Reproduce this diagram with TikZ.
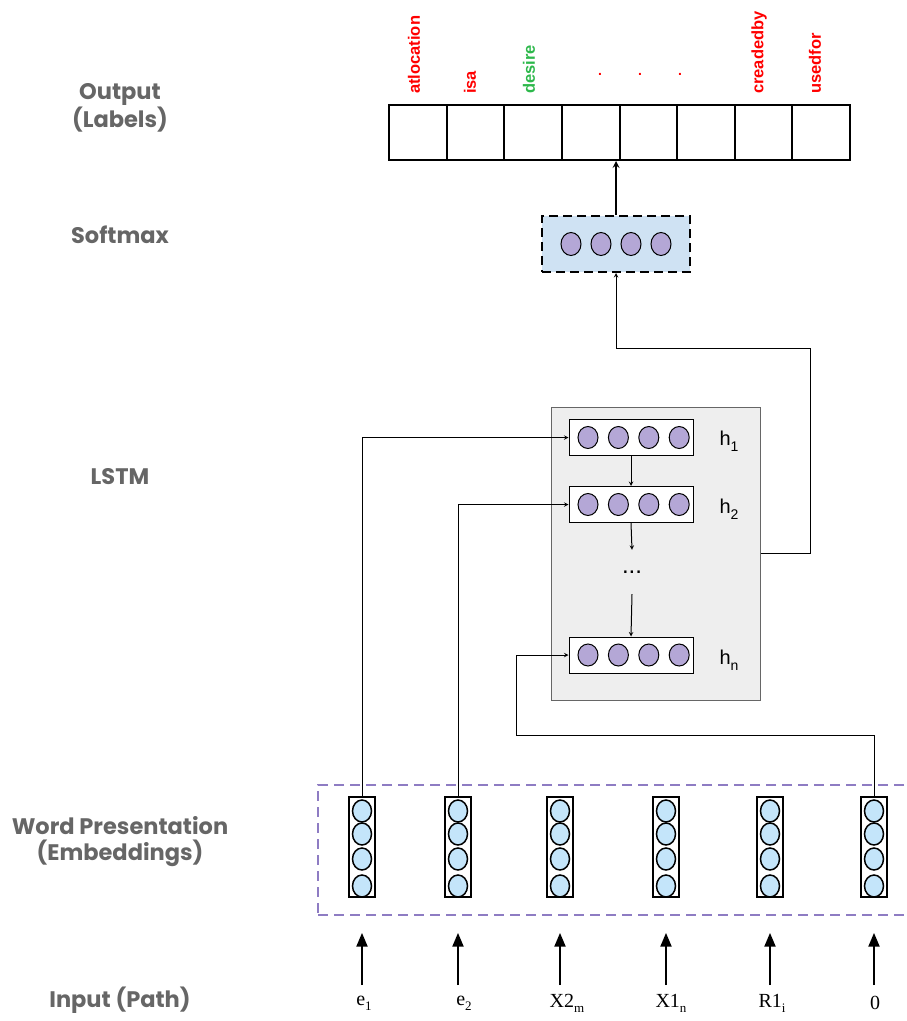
\documentclass[tikz,border=0pt]{standalone}
\usepackage{fontspec}
\setmainfont{Liberation Serif}
\setsansfont{Liberation Sans}
\newfontfamily\headfont{Poppins}
\usetikzlibrary{arrows, calc, positioning, shapes}

\definecolor{headgray}{HTML}{666666}
\definecolor{tagred}{HTML}{FF0000}
\definecolor{taggreen}{HTML}{2DB84B}
\definecolor{softblue}{HTML}{CFE2F3}
\definecolor{unitpurple}{HTML}{B4A7D6}
\definecolor{unitblue}{HTML}{C4E5FA}
\definecolor{framepurple}{HTML}{8E7CC3}
\definecolor{lstmgray}{HTML}{EEEEEE}

\begin{document}
\begin{tikzpicture}[x=1pt, y=-1pt,
		head/.style={font=\headfont\bfseries\fontsize{22.5}{26}\selectfont, text=headgray, align=center},
		cell/.style={draw, line width=2pt, minimum width=57.6pt, minimum height=55pt, inner sep=0pt},
		tag/.style={font=\sffamily\bfseries\fontsize{16.5}{18}\selectfont, rotate=90, anchor=west, inner sep=0pt, text=tagred},
		unit/.style={ellipse, draw, line width=1pt, fill=unitpurple, minimum width=20pt, minimum height=23pt, inner sep=0pt},
		hbox/.style={draw, fill=white, line width=1pt, minimum width=124pt, minimum height=36pt, inner sep=0pt},
		hname/.style={font=\sffamily\fontsize{20}{22}\selectfont},
		embbox/.style={draw, line width=2pt, minimum width=26pt, minimum height=100pt, inner sep=0pt},
		embunit/.style={ellipse, draw, line width=1.5pt, fill=unitblue, minimum width=19pt, minimum height=22pt, inner sep=0pt},
		word/.style={font=\fontsize{20}{22}\selectfont, inner sep=1pt},
		link/.style={-stealth, line width=1pt},
		inarrow/.style={-triangle 45, line width=2.2pt}]
	\useasboundingbox (0,0) rectangle (907,1021);

	% layer names
	\node[head] (houtput) at (120,108) {Output\\(Labels)};
	\node[head] (hsoftmax) at (120,235) {Softmax};
	\node[head] (hlstm) at (120,477) {LSTM};
	\node[head] (hemb) at (120,842) {Word Presentation\\(Embeddings)};
	\node[head] (hinput) at (120,1000) {Input (Path)};

	% output labels
	\foreach \i in {1,...,8}
		\node[cell] (out\i) at ({418+(\i-1)*57.6},132.5) {};
	\node[tag] (t1) at (414,94) {atlocation};
	\node[tag] (t2) at (470,94) {isa};
	\node[tag, text=taggreen] (t3) at (529,94) {desire};
	\foreach \x [count=\i] in {600,640,680}
		\node[text=tagred, font=\sffamily\bfseries\fontsize{14}{14}\selectfont, inner sep=0pt] (dot\i) at (\x,74) {.};
	\node[tag] (t7) at (759,94) {creadedby};
	\node[tag] (t8) at (815,94) {usedfor};

	% softmax
	\node[draw, fill=softblue, line width=2pt, dash pattern=on 9pt off 5pt, minimum width=148pt, minimum height=56pt] (soft) at (616,244) {};
	\foreach \k in {1,...,4}
		\node[unit] (s\k) at ({571+(\k-1)*30},244) {};
	\draw[-stealth, line width=2pt] (soft.north) -- (soft.north |- out4.south);

	% lstm
	\node[draw=black!60, fill=lstmgray, line width=1pt, minimum width=209pt, minimum height=293pt] (lstm) at (655.5,553.5) {};
	\node[hbox] (h1) at (631,437.5) {};
	\node[hbox] (h2) at (631,504.5) {};
	\node[hbox] (hn) at (631,655) {};
	\foreach \h in {h1,h2,hn}
		\foreach \k in {1,...,4}
			\node[unit, minimum height=22pt] (\h u\k) at ($(\h.center)+({-43+(\k-1)*30.4},0)$) {};
	\node[hname] (l1) at (729,441) {h\raisebox{-6pt}{\fontsize{14}{14}\selectfont 1}};
	\node[hname] (l2) at (729,509) {h\raisebox{-6pt}{\fontsize{14}{14}\selectfont 2}};
	\node[hname] (ln) at (729,660) {h\raisebox{-6pt}{\fontsize{14}{14}\selectfont n}};
	\node[font=\sffamily\fontsize{24}{24}\selectfont, minimum height=44pt, inner sep=0pt] (hdots) at (632,572) {...};
	\draw[link] (h1.south) -- (h2.north);
	\draw[link] (h2.south) -- (hdots.north);
	\draw[link] (hdots.south) -- (hn.north);

	\coordinate (turn) at (810,348);
	\draw[link] (lstm.east) -| (turn) -| (soft.south);

	% embeddings
	\node[draw=framepurple, line width=2pt, dash pattern=on 10pt off 6pt, minimum width=620pt, minimum height=130pt] (embframe) at (628,850) {};
	\foreach \x [count=\i] in {362,458,560,666,770,874} {
		\node[embbox] (emb\i) at (\x,847) {};
		\foreach \y [count=\k] in {811,834,859,886}
			\node[embunit] (emb\i u\k) at (\x,\y) {};
	}
	\draw[link] (emb1.north) |- (h1.west);
	\draw[link] (emb2.north) |- (h2.west);
	\coordinate (bend) at (516,735);
	\draw[link] (emb6.north) |- (bend) |- (hn.west);

	% inputs
	\node[word] (in1) at (364,1003) {e\raisebox{-5pt}{\fontsize{13}{13}\selectfont 1}};
	\node[word] (in2) at (464,1003) {e\raisebox{-5pt}{\fontsize{13}{13}\selectfont 2}};
	\node[word] (in3) at (567,1003) {X2\raisebox{-5pt}{\fontsize{13}{13}\selectfont m}};
	\node[word] (in4) at (671,1003) {X1\raisebox{-5pt}{\fontsize{13}{13}\selectfont n}};
	\node[word] (in5) at (772,1003) {R1\raisebox{-5pt}{\fontsize{13}{13}\selectfont i}};
	\node[word] (in6) at (875,1003) {0};
	\foreach \i in {1,...,6}
		\draw[inarrow, shorten >=17pt] (emb\i.south |- 0,985) -- (emb\i.south |- embframe.south);

\end{tikzpicture}
\end{document}
